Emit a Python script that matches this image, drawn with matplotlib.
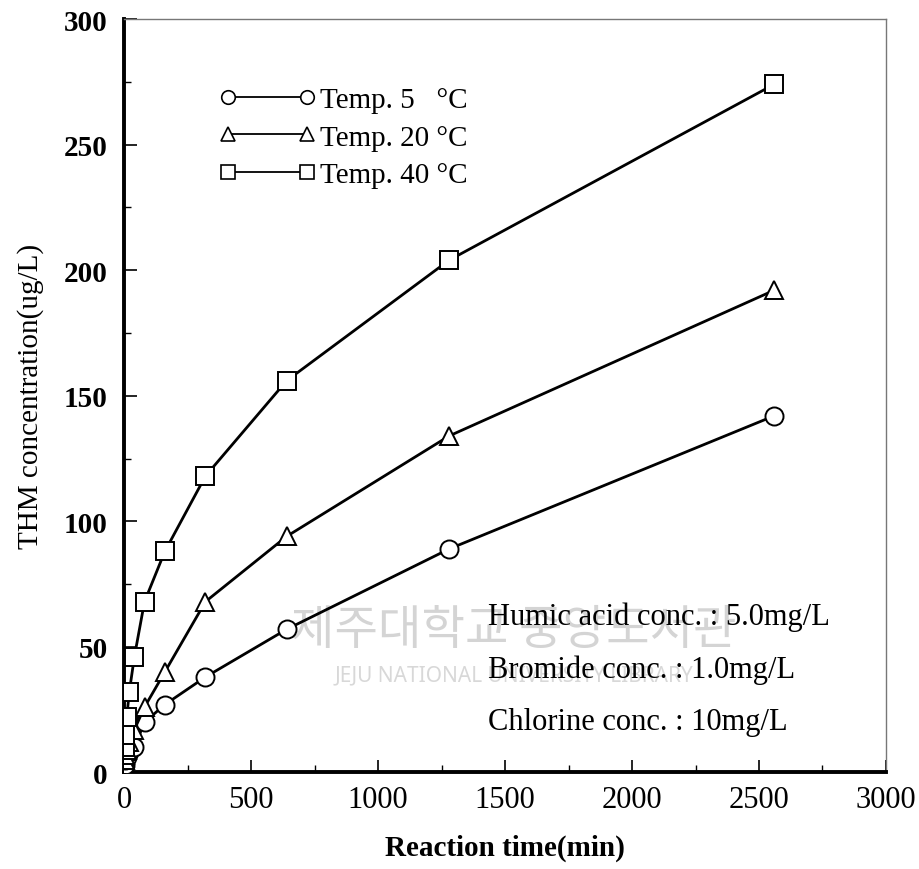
import matplotlib
matplotlib.use('Agg')
import matplotlib.pyplot as plt
from matplotlib.ticker import MultipleLocator

# reaction time (min) and THM concentration (ug/L)
time_min = [2.5, 5, 10, 20, 40, 80, 160, 320, 640, 1280, 2560]
thm_5c = [3, 5, 6, 8, 10, 20, 27, 38, 57, 89, 142]
thm_20c = [5, 7, 9, 12, 17, 26, 40, 68, 94, 134, 192]
thm_40c = [10, 15, 22, 32, 46, 68, 88, 118, 156, 204, 274]

series_labels = ['Temp. 5   \u00b0C', 'Temp. 20 \u00b0C', 'Temp. 40 \u00b0C']
conditions = ['Humic acid conc. : 5.0mg/L',
              'Bromide conc. : 1.0mg/L',
              'Chlorine conc. : 10mg/L']

plt.rcParams['font.family'] = ['Liberation Serif', 'DejaVu Serif']

fig = plt.figure(figsize=(9.2, 8.7), dpi=100)
ax = fig.add_axes([0.135, 0.111, 0.828, 0.866])

# watermark
ax.text(0.512, 0.19, '\uc81c\uc8fc\ub300\ud559\uad50 \uc911\uc559\ub3c4\uc11c\uad00',
        transform=ax.transAxes, ha='center', va='center', fontsize=34,
        color='#d4d4d4', family=['Noto Sans CJK KR'], zorder=0)
ax.text(0.512, 0.13, 'JEJU NATIONAL UNIVERSITY LIBRARY',
        transform=ax.transAxes, ha='center', va='center', fontsize=15,
        color='#d8d8d8', family=['Noto Sans'], zorder=0)

for y, m, lab in [(thm_5c, 'o', series_labels[0]),
                  (thm_20c, '^', series_labels[1]),
                  (thm_40c, 's', series_labels[2])]:
    ax.plot(time_min, y, color='black', lw=2, marker=m, ms=13,
            mfc='white', mec='black', mew=1.4, label=lab, zorder=3)

ax.set_xlim(0, 3000)
ax.set_ylim(0, 300)
ax.xaxis.set_major_locator(MultipleLocator(500))
ax.xaxis.set_minor_locator(MultipleLocator(250))
ax.yaxis.set_major_locator(MultipleLocator(50))
ax.yaxis.set_minor_locator(MultipleLocator(25))
ax.tick_params(which='both', direction='in', top=False, right=False)
ax.tick_params(which='major', length=9, width=1.2)
ax.tick_params(which='minor', length=5, width=1)
ax.tick_params(axis='x', labelsize=22, pad=9)
ax.tick_params(axis='y', labelsize=21, pad=12)
for t in ax.get_yticklabels():
    t.set_fontweight('bold')

for s in ['left', 'bottom']:
    ax.spines[s].set_linewidth(2.8)
for s in ['top', 'right']:
    ax.spines[s].set_linewidth(1)
    ax.spines[s].set_color('#777777')

ax.set_xlabel('Reaction time(min)', fontsize=21, fontweight='bold', labelpad=14)
ax.set_ylabel('THM concentration(ug/L)', fontsize=21, labelpad=14)

leg = ax.legend(loc='upper left', bbox_to_anchor=(0.09, 0.945), frameon=False,
                numpoints=2, handlelength=3.3, markerscale=0.75, fontsize=21,
                labelspacing=0.38, handletextpad=0.15)
for ln in leg.get_lines():
    ln.set_linewidth(1.3)
    ln.set_markeredgewidth(1.2)

for i, txt in enumerate(conditions):
    ax.text(0.477, 0.207 - i * 0.07, txt, transform=ax.transAxes,
            fontsize=22, va='center', ha='left')

fig.savefig('out.png', dpi=100)
